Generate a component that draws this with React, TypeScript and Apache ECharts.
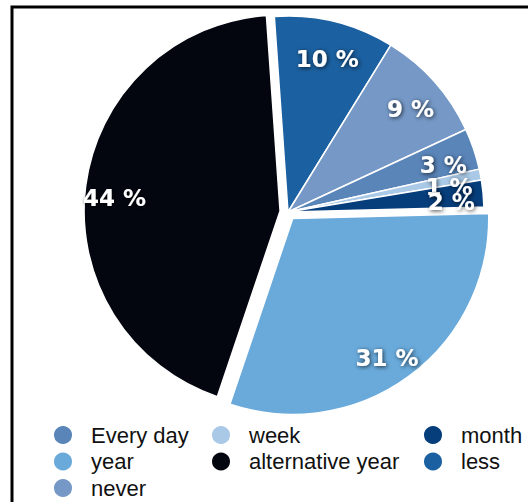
import React, { useEffect, useRef } from 'react';
import * as echarts from 'echarts';

const categories = ['less', 'never', 'Every day', 'week', 'month', 'year', 'alternative year'];
const values = [9.9, 9.3, 3.4, 0.9, 2.2, 30.6, 43.7];
const colors = ['#1b60a0', '#7598c6', '#5a85b9', '#a9c9e6', '#063d7b', '#69aadb', '#03050f'];
const explodedCategories = ['year', 'alternative year'];
const legendColumns = [
  ['Every day', 'year', 'never'],
  ['week', 'alternative year'],
  ['month', 'less'],
];
const legendLefts = [47, 205, 417];

export default function App() {
  const ref = useRef<HTMLDivElement>(null);
  useEffect(() => {
    if (!ref.current) return;
    const chart = echarts.init(ref.current, null, { renderer: 'svg' });
    const center = [288, 212];
    const pieData = categories.map((name, i) => ({
      name,
      value: values[i],
      selected: explodedCategories.includes(name),
      itemStyle: { color: colors[i] },
    }));
    const labelData = categories.map((name, i) => ({
      name,
      value: values[i],
      selected: explodedCategories.includes(name),
      itemStyle: { color: 'rgba(0,0,0,0)' },
    }));
    chart.setOption({
      animation: false,
      backgroundColor: '#ffffff',
      graphic: [
        {
          type: 'polyline',
          shape: { points: [[12, 502], [12, 7], [528, 7]] },
          style: { stroke: '#000', lineWidth: 3, fill: 'none' },
          silent: true,
        },
      ],
      legend: legendColumns.map((col, i) => ({
        orient: 'vertical',
        left: legendLefts[i],
        top: 419,
        height: 90,
        data: col,
        icon: 'circle',
        itemWidth: 20,
        itemHeight: 20,
        itemGap: 4.5,
        selectedMode: false,
        textStyle: {
          fontFamily: 'Liberation Sans',
          fontSize: 22,
          lineHeight: 20,
          color: '#111',
          padding: [0, 0, 0, 13],
        },
      })),
      series: [
        {
          type: 'pie',
          center,
          radius: [0, 196],
          startAngle: 94,
          clockwise: true,
          selectedMode: 'multiple',
          selectedOffset: 8,
          data: pieData,
          itemStyle: { borderColor: '#fff', borderWidth: 1.5 },
          label: { show: false },
          labelLine: { show: false },
          emphasis: { disabled: true },
        },
        {
          type: 'pie',
          center,
          radius: [126, 196],
          startAngle: 94,
          clockwise: true,
          silent: true,
          avoidLabelOverlap: false,
          minShowLabelAngle: 0,
          selectedMode: 'multiple',
          selectedOffset: 8,
          data: labelData,
          itemStyle: { borderWidth: 0 },
          labelLayout: { hideOverlap: false },
          label: {
            show: true,
            position: 'inside',
            offset: [0, 6],
            formatter: (p: any) => Math.round(p.value) + ' %',
            color: '#fff',
            fontFamily: 'DejaVu Sans',
            fontWeight: 'bold',
            fontSize: 23,
            textShadowColor: 'rgba(0,0,0,0.75)',
            textShadowBlur: 4,
            textShadowOffsetX: 1,
            textShadowOffsetY: 1,
          },
          select: {
            label: { offset: [-3, 8] },
            itemStyle: { color: 'rgba(0,0,0,0)' },
          },
          labelLine: { show: false },
          emphasis: { disabled: true },
        },
      ],
    });
    return () => chart.dispose();
  }, []);
  return (
    <div
      ref={ref}
      style={{ position: 'fixed', left: 0, top: 0, width: 528, height: 502, background: '#fff' }}
    />
  );
}
